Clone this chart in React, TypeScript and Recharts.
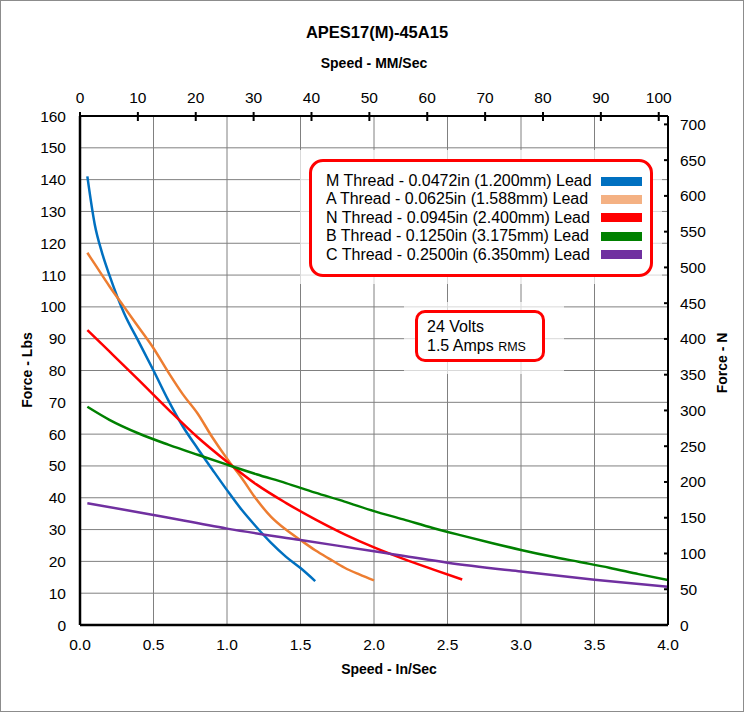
import { LineChart, Line, XAxis, YAxis, CartesianGrid } from 'recharts';

const LBS_TO_N = 4.448222;
const IN_TO_MM = 25.4;

const speedM = [0.05, 0.1, 0.15, 0.2, 0.3, 0.4, 0.5, 0.6, 0.7, 0.8, 0.9, 1.0, 1.1, 1.2, 1.3, 1.4, 1.5, 1.6];
const forceM = [141, 126, 117, 110, 98, 89, 80, 70.7, 62.4, 55.5, 48.9, 42.4, 36.2, 30.8, 25.8, 21.5, 17.9, 13.8];

const speedA = [0.05, 0.1, 0.2, 0.3, 0.4, 0.5, 0.6, 0.7, 0.8, 0.9, 1.0, 1.1, 1.2, 1.3, 1.4, 1.5, 1.6, 1.7, 1.8, 1.9, 2.0];
const forceA = [117, 113.5, 106.5, 100, 93.5, 87, 79.5, 72.5, 66.5, 59, 52.3, 46.2, 39.5, 34, 30, 26.7, 23.5, 20.7, 18, 15.9, 14];

const speedN = [0.05, 0.2, 0.4, 0.6, 0.8, 1.0, 1.2, 1.4, 1.6, 1.8, 2.0, 2.2, 2.4, 2.6];
const forceN = [92.7, 86, 77, 67.8, 59, 51.3, 44.2, 38.4, 33.2, 28.5, 24.4, 20.8, 17.5, 14.3];

const speedB = [0.05, 0.2, 0.4, 0.6, 0.8, 1.0, 1.2, 1.4, 1.6, 1.8, 2.0, 2.2, 2.4, 2.6, 2.8, 3.0, 3.2, 3.4, 3.6, 3.8, 4.0];
const forceB = [68.6, 64.5, 60.2, 56.7, 53.5, 50.4, 47.4, 44.6, 41.6, 38.8, 35.8, 33.2, 30.5, 28.1, 25.8, 23.6, 21.6, 19.8, 18, 16, 14.1];

const speedC = [0.05, 0.5, 1.0, 1.5, 2.0, 2.5, 3.0, 3.5, 4.0];
const forceC = [38.3, 34.6, 30.3, 26.7, 23.2, 19.6, 16.8, 14.2, 12];

const inTicks = [0, 0.5, 1, 1.5, 2, 2.5, 3, 3.5, 4];
const mmTicks = [0, 10, 20, 30, 40, 50, 60, 70, 80, 90, 100];
const lbsTicks = [0, 10, 20, 30, 40, 50, 60, 70, 80, 90, 100, 110, 120, 130, 140, 150, 160];
const nTicks = [0, 50, 100, 150, 200, 250, 300, 350, 400, 450, 500, 550, 600, 650, 700];

const series = [
  { name: 'M Thread - 0.0472in (1.200mm) Lead', speed: speedM, force: forceM, color: '#0070C0', swatch: '#0070C0' },
  { name: 'A Thread - 0.0625in (1.588mm) Lead', speed: speedA, force: forceA, color: '#ED7D31', swatch: '#F4B183' },
  { name: 'N Thread - 0.0945in (2.400mm) Lead', speed: speedN, force: forceN, color: '#FF0000', swatch: '#FF0000' },
  { name: 'B Thread - 0.1250in (3.175mm) Lead', speed: speedB, force: forceB, color: '#008000', swatch: '#008000' },
  { name: 'C Thread - 0.2500in (6.350mm) Lead', speed: speedC, force: forceC, color: '#7030A0', swatch: '#7030A0' },
];

const FONT = '"Liberation Sans", Arial, sans-serif';
const tickStyle = { fontFamily: FONT, fontSize: 15.5, fill: '#000' };

function renderTopTick(props: any) {
  const { x, y, payload } = props;
  return (
    <g key={`mm-${payload.value}`}>
      <line x1={x} x2={x} y1={y - 4} y2={y + 5} stroke="#000" strokeWidth={2} />
      <text x={x} y={y - 18} dy="0.35em" textAnchor="middle" style={tickStyle}>
        {payload.value}
      </text>
    </g>
  );
}

const boldText = { fontFamily: FONT, fontWeight: 700, color: '#000', position: 'absolute' as const, whiteSpace: 'nowrap' as const };

export default function App() {
  // metric copy of the B curve, only used to give the top axis a series
  const mmData = speedB.map((v, i) => ({ mm: v * IN_TO_MM, f: forceB[i] }));

  return (
    <div style={{ position: 'absolute', left: 0, top: 0, width: 744, height: 712, background: '#fff' }}>
      <LineChart width={744} height={712} margin={{ top: 86, right: 36, bottom: 57, left: 40 }}>
        <CartesianGrid xAxisId="in" yAxisId="lbs" stroke="#808080" strokeWidth={1} />
        <XAxis
          xAxisId="in"
          dataKey="v"
          type="number"
          domain={[0, 4]}
          ticks={inTicks}
          tickFormatter={(v: number) => v.toFixed(1)}
          height={30}
          tickLine={false}
          tickSize={0}
          tickMargin={14}
          axisLine={{ stroke: '#000', strokeWidth: 2.5 }}
          tick={tickStyle}
          allowDataOverflow
        />
        <XAxis
          xAxisId="mm"
          dataKey="mm"
          orientation="top"
          type="number"
          domain={[0, 4 * IN_TO_MM]}
          ticks={mmTicks}
          height={30}
          tickLine={false}
          tickSize={0}
          tickMargin={0}
          axisLine={{ stroke: '#000', strokeWidth: 2 }}
          tick={renderTopTick}
          allowDataOverflow
        />
        <YAxis
          yAxisId="lbs"
          type="number"
          domain={[0, 160]}
          ticks={lbsTicks}
          width={40}
          tickLine={false}
          tickSize={0}
          tickMargin={14}
          axisLine={{ stroke: '#000', strokeWidth: 2.5 }}
          tick={tickStyle}
          allowDataOverflow
        />
        <YAxis
          yAxisId="n"
          orientation="right"
          type="number"
          domain={[0, 160 * LBS_TO_N]}
          ticks={nTicks}
          width={40}
          tickSize={-4}
          tickMargin={16}
          tickLine={{ stroke: '#000', strokeWidth: 2 }}
          axisLine={{ stroke: '#000', strokeWidth: 2 }}
          tick={tickStyle}
          allowDataOverflow
        />
        <Line
          xAxisId="mm"
          yAxisId="lbs"
          data={mmData}
          dataKey="f"
          type="monotone"
          stroke="none"
          dot={false}
          activeDot={false}
          isAnimationActive={false}
        />
        {series.map((s) => (
          <Line
            key={s.name}
            xAxisId="in"
            yAxisId="lbs"
            data={s.speed.map((v, i) => ({ v, f: s.force[i] }))}
            dataKey="f"
            type="monotone"
            stroke={s.color}
            strokeWidth={2.5}
            dot={false}
            activeDot={false}
            isAnimationActive={false}
          />
        ))}
      </LineChart>

      <div style={{ ...boldText, fontSize: 16.5, left: 377, top: 32, transform: 'translate(-50%, -50%)' }}>APES17(M)-45A15</div>
      <div style={{ ...boldText, fontSize: 14, left: 374, top: 63, transform: 'translate(-50%, -50%)' }}>Speed - MM/Sec</div>
      <div style={{ ...boldText, fontSize: 14, left: 389, top: 669, transform: 'translate(-50%, -50%)' }}>Speed - In/Sec</div>
      <div style={{ ...boldText, fontSize: 14, left: 27, top: 370, transform: 'translate(-50%, -50%) rotate(-90deg)' }}>Force - Lbs</div>
      <div style={{ ...boldText, fontSize: 14, left: 722, top: 363, transform: 'translate(-50%, -50%) rotate(-90deg)' }}>Force - N</div>

      <div style={{ position: 'absolute', left: 300, top: 150, width: 362, height: 134, background: 'rgba(255,255,255,0.7)' }} />
      <div
        style={{
          position: 'absolute',
          left: 309,
          top: 159,
          width: 344,
          height: 118,
          boxSizing: 'border-box',
          border: '3px solid #FF0000',
          borderRadius: 14,
          background: '#fff',
        }}
      />
      {series.map((s, i) => (
        <div key={s.name}>
          <div
            style={{
              position: 'absolute',
              left: 326,
              top: 181 + i * 18.4 - 9,
              height: 18,
              lineHeight: '18px',
              fontFamily: FONT,
              fontSize: 16,
              color: '#000',
              whiteSpace: 'nowrap',
            }}
          >
            {s.name}
          </div>
          <div style={{ position: 'absolute', left: 601, top: 181 + i * 18.4 - 4.5, width: 41, height: 9, background: s.swatch }} />
        </div>
      ))}

      <div style={{ position: 'absolute', left: 404, top: 302, width: 160, height: 72, background: 'rgba(255,255,255,0.7)' }} />
      <div
        style={{
          position: 'absolute',
          left: 415,
          top: 310,
          width: 130,
          height: 52,
          boxSizing: 'border-box',
          border: '3px solid #FF0000',
          borderRadius: 10,
          background: '#fff',
        }}
      />
      <div style={{ position: 'absolute', left: 427, top: 317, lineHeight: '19px', fontFamily: FONT, fontSize: 16, color: '#000', whiteSpace: 'nowrap' }}>
        24 Volts
        <br />
        1.5 Amps <span style={{ fontSize: 12.5 }}>RMS</span>
      </div>

      <div style={{ position: 'absolute', left: 0, top: 0, width: 744, height: 712, boxSizing: 'border-box', border: '1px solid #8c8c8c', pointerEvents: 'none' }} />
    </div>
  );
}
